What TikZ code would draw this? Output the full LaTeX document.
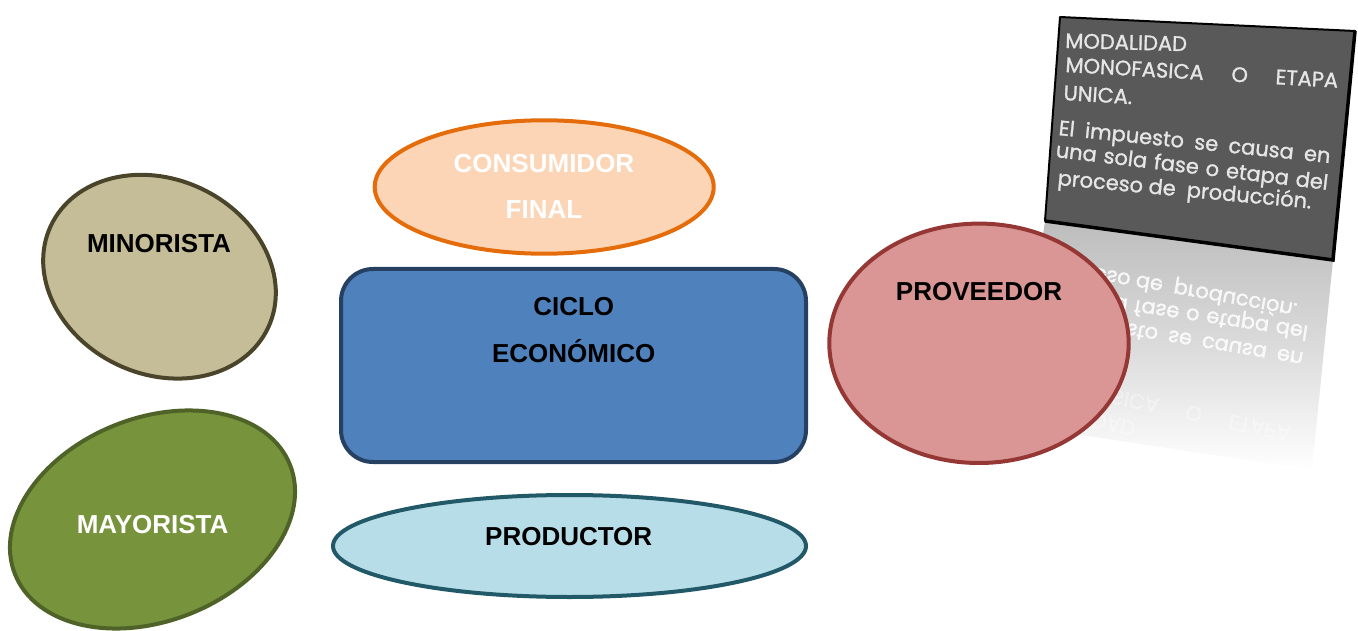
\documentclass[tikz,border=0pt]{standalone}
\usepackage{fontspec}
\setmainfont{Liberation Sans}
\newfontfamily\boxfont[FakeBold=1.2]{Poppins}
\usetikzlibrary{shapes.geometric}
\definecolor{minofill}{HTML}{C4BD97}
\definecolor{minodraw}{HTML}{4A452A}
\definecolor{mayofill}{HTML}{77933C}
\definecolor{mayodraw}{HTML}{4F6228}
\definecolor{consfill}{HTML}{FBD5B5}
\definecolor{consdraw}{HTML}{E46C0A}
\definecolor{ciclofill}{HTML}{4F81BD}
\definecolor{ciclodraw}{HTML}{254061}
\definecolor{prodfill}{HTML}{B7DEE8}
\definecolor{proddraw}{HTML}{215968}
\definecolor{provfill}{HTML}{D99694}
\definecolor{provdraw}{HTML}{953735}
\definecolor{boxfill}{HTML}{595959}
\definecolor{boxtext}{HTML}{E6E6E6}
\definecolor{reflgray}{HTML}{BDBDBD}
% #1 name prefix, #2 colour, #3 opacity of the upper lines, #4 opacity of the lower lines
\newcommand\boxlines[4]{%
 \node[boxtxt,text=#2,text opacity=#3,rotate=-1.5] (#1a) at (1065,48) {MODALIDAD};
 \node[boxtxt,text=#2,text opacity=#3,rotate=-3.3] (#1b) at (1065,72) {\makebox[273pt][s]{MONOFASICA O ETAPA}};
 \node[boxtxt,text=#2,text opacity=#3,rotate=-3.5] (#1c) at (1063,100) {UNICA.};
 \node[boxtxt,text=#2,text opacity=#4,rotate=-5.9] (#1d) at (1058,135) {\makebox[273pt][s]{El impuesto se causa en}};
 \node[boxtxt,text=#2,text opacity=#4,rotate=-6.9] (#1e) at (1055,157) {\makebox[274pt][s]{una sola fase o etapa del}};
 \node[boxtxt,text=#2,text opacity=#4,rotate=-5.3] (#1f) at (1057,185) {proceso de\ \ producción.};
}
\begin{document}
\begin{tikzpicture}[x=1pt,y=-1pt,
  lbl/.style={font=\fontsize{26}{30}\selectfont\bfseries, anchor=base, inner sep=0pt},
  blob/.style={ellipse, draw, line width=4pt, inner sep=0pt},
  boxtxt/.style={font=\boxfont\fontsize{21}{24}\selectfont, anchor=base west, inner sep=0pt}]
\useasboundingbox (0,0) rectangle (1358,631);

% reflection of the text box
\coordinate (bl) at (1045,221);
\coordinate (br) at (1333,260);
\coordinate (tl) at (1060,17);
\coordinate (tr) at (1355,31);
\coordinate (rr) at (1312,470);
\coordinate (rl) at (1015,425);
\shade[top color=reflgray, bottom color=white, middle color=reflgray!55] (bl) -- (br) -- (rr) -- (rl) -- cycle;
\begin{scope}
 \clip (bl) -- (br) -- (rr) -- (rl) -- cycle;
 \begin{scope}[shift={(1045,221)}, rotate=-7.71, yscale=-1, rotate=7.71, shift={(-1045,-221)}, transform shape]
  \boxlines{r}{white}{0.35}{0.85}
 \end{scope}
\end{scope}

% text box
\fill[boxfill] (tl) -- (tr) -- (br) -- (bl) -- cycle;
\draw[line width=2pt, black, line join=round] (tl) -- (tr) -- (br) -- (bl) -- cycle;
\draw[line width=3.5pt, black] (tr) -- (br) -- (bl);
\boxlines{o}{boxtext}{1}{1}

% shapes
\node[blob, fill=minofill, draw=minodraw, minimum width=240pt, minimum height=195pt, rotate=-25] (mino) at (159.5,276.7) {};
\node[blob, fill=mayofill, draw=mayodraw, minimum width=296pt, minimum height=203pt, rotate=21.7] (mayo) at (152.5,519.5) {};
\node[blob, fill=consfill, draw=consdraw, minimum width=339pt, minimum height=133.4pt] (cons) at (544.2,187) {};
\node[draw=ciclodraw, fill=ciclofill, line width=4pt, rounded corners=32pt, minimum width=465pt, minimum height=193pt, inner sep=0pt] (ciclo) at (573.5,365.5) {};
\node[blob, fill=prodfill, draw=proddraw, minimum width=473pt, minimum height=102pt] (prod) at (569.5,546) {};
\node[blob, fill=provfill, draw=provdraw, minimum width=299.4pt, minimum height=239.4pt] (prov) at (979,343.3) {};

% labels
\node[lbl] (tmino) at (159,253) {MINORISTA};
\node[lbl, text=white] (tmayo) at (152.6,533) {MAYORISTA};
\node[lbl, text=white] (tcons1) at (544,173) {CONSUMIDOR};
\node[lbl, text=white] (tcons2) at (544,219) {FINAL};
\node[lbl] (tciclo1) at (573.7,315) {CICLO};
\node[lbl] (tciclo2) at (573.7,362) {ECONÓMICO};
\node[lbl] (tprod) at (568.7,545) {PRODUCTOR};
\node[lbl] (tprov) at (979,300) {PROVEEDOR};
\end{tikzpicture}
\end{document}
